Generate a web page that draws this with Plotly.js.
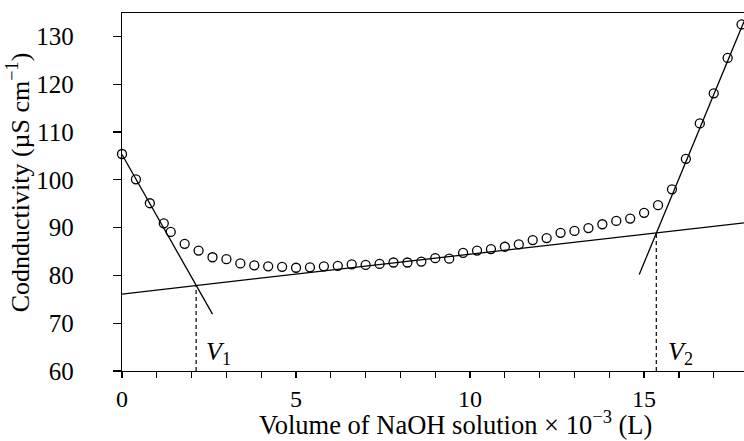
<!DOCTYPE html>
<html>
<head>
<meta charset="utf-8">
<script src="https://cdn.plot.ly/plotly-3.0.1.min.js"></script>
<style>html,body{margin:0;padding:0;background:#fff;}#chart{width:744px;height:441px;}</style>
</head>
<body>
<div id="chart"></div>
<script>
// Measured data
const volume = [0, 0.4, 0.8, 1.2, 1.4, 1.8, 2.2, 2.6, 3.0, 3.4, 3.8, 4.2, 4.6, 5.0, 5.4, 5.8, 6.2, 6.6, 7.0, 7.4, 7.8, 8.2, 8.6, 9.0, 9.4, 9.8, 10.2, 10.6, 11.0, 11.4, 11.8, 12.2, 12.6, 13.0, 13.4, 13.8, 14.2, 14.6, 15.0, 15.4, 15.8, 16.2, 16.6, 17.0, 17.4, 17.8];
const conductivity = [105.4, 100.1, 95.1, 90.9, 89.1, 86.6, 85.2, 83.8, 83.4, 82.5, 82.1, 81.9, 81.8, 81.6, 81.7, 81.9, 82.0, 82.3, 82.2, 82.4, 82.7, 82.7, 82.9, 83.6, 83.5, 84.7, 85.2, 85.5, 86.0, 86.5, 87.4, 87.8, 88.9, 89.3, 89.9, 90.7, 91.4, 91.9, 93.1, 94.7, 98.0, 104.4, 111.8, 118.1, 125.5, 132.5];

// Fitted straight lines (end points)
const fit1X = [0, 2.6];
const fit1Y = [105.3, 71.9];
const fit2X = [0, 17.87];
const fit2Y = [76.1, 91.0];
const fit3X = [14.86, 17.87];
const fit3Y = [80.2, 133.1];

// Equivalence points
const v1X = [2.13, 2.13];
const v1Y = [60, 77.9];
const v2X = [15.35, 15.35];
const v2Y = [60, 88.9];

const xTickVals = [0, 5, 10, 15];
const yTickVals = [60, 70, 80, 90, 100, 110, 120, 130];

const xTitle = 'Volume of NaOH solution × 10<sup>−3</sup> (L)';
const yTitle = 'Codnductivity (µS cm<sup>−1</sup>)';

const FONT = "'Liberation Serif', 'Times New Roman', serif";
const lineStyle = {color: '#000', width: 1.3};

const traces = [
  {x: fit1X, y: fit1Y, mode: 'lines', line: lineStyle, hoverinfo: 'skip'},
  {x: fit2X, y: fit2Y, mode: 'lines', line: lineStyle, hoverinfo: 'skip'},
  {x: fit3X, y: fit3Y, mode: 'lines', line: lineStyle, hoverinfo: 'skip'},
  {x: v1X, y: v1Y, mode: 'lines', line: {color: '#000', width: 1.2, dash: '4px,3px'}, hoverinfo: 'skip'},
  {x: v2X, y: v2Y, mode: 'lines', line: {color: '#000', width: 1.2, dash: '4px,3px'}, hoverinfo: 'skip'},
  {x: volume, y: conductivity, mode: 'markers', cliponaxis: false,
   marker: {symbol: 'circle-open', size: 9, color: '#000', line: {color: '#000', width: 1.3}}}
];

const layout = {
  width: 744, height: 441,
  margin: {l: 122, r: 0, t: 13, b: 70, pad: 0},
  paper_bgcolor: '#fff', plot_bgcolor: '#fff',
  showlegend: false,
  font: {family: FONT, color: '#000', size: 24},
  xaxis: {
    range: [0, 17.87],
    showgrid: false, zeroline: false,
    showline: true, linecolor: '#000', linewidth: 1.3, mirror: true,
    ticks: 'outside', ticklen: 6, tickwidth: 1.2, tickcolor: '#000',
    tickvals: xTickVals, ticktext: xTickVals.map(String),
    minor: {dtick: 1, tick0: 0, ticks: 'outside', ticklen: 6, tickwidth: 1.2, tickcolor: '#000'},
    tickfont: {family: FONT, size: 24, color: '#000'},
    ticklabelstandoff: 0
  },
  yaxis: {
    range: [60, 134.9],
    showgrid: false, zeroline: false,
    showline: true, linecolor: '#000', linewidth: 1.3,
    ticks: 'outside', ticklen: 8, tickwidth: 1.2, tickcolor: '#000',
    tickvals: yTickVals, ticktext: yTickVals.map(String),
    tickfont: {family: FONT, size: 25, color: '#000'},
    ticklabelstandoff: 34
  },
  annotations: [
    {x: 0.536, y: -0.092, xref: 'paper', yref: 'paper', xanchor: 'center', yanchor: 'top',
     text: xTitle, showarrow: false, font: {family: FONT, size: 26.5, color: '#000'}},
    {x: -0.165, y: 0.528, xref: 'paper', yref: 'paper', xanchor: 'center', yanchor: 'middle', textangle: -90,
     text: yTitle, showarrow: false, font: {family: FONT, size: 26, color: '#000'}},
    {x: 2.35, y: 60, xref: 'x', yref: 'y', xanchor: 'left', yanchor: 'bottom',
     text: '<i>V</i><sub>1</sub>', showarrow: false, font: {family: FONT, size: 26, color: '#000'}},
    {x: 15.62, y: 60, xref: 'x', yref: 'y', xanchor: 'left', yanchor: 'bottom',
     text: '<i>V</i><sub>2</sub>', showarrow: false, font: {family: FONT, size: 26, color: '#000'}}
  ]
};

Plotly.newPlot('chart', traces, layout, {displayModeBar: false, staticPlot: true});
</script>
</body>
</html>
